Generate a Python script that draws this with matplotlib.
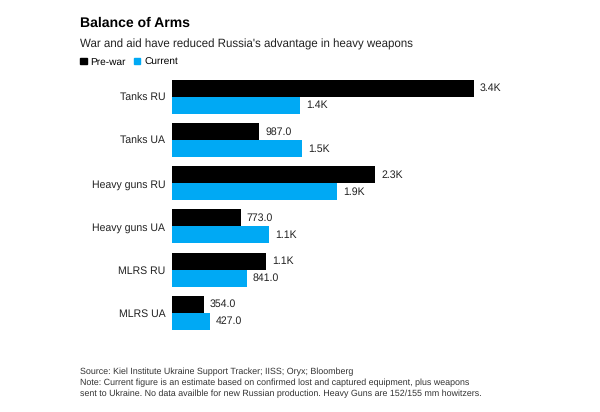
import numpy as np
import matplotlib
matplotlib.use('Agg')
import matplotlib.pyplot as plt
from matplotlib.patches import Patch

plt.rcParams['font.family'] = ['Liberation Sans', 'DejaVu Sans']
plt.rcParams['text.hinting'] = 'no_hinting'

#data
categories = ['Tanks RU', 'Tanks UA', 'Heavy guns RU', 'Heavy guns UA', 'MLRS RU', 'MLRS UA']
pre_war = [3417, 987, 2300, 773, 1060, 354]
current = [1446, 1472, 1862, 1099, 841, 427]
series_names = ['Pre-war', 'Current']
black = '#000000'
blue = '#00a9f4'

def fmt(v):
    if v >= 1000:
        return '%.1fK' % (v / 1000.0)
    return '%.1f' % v

W, H = 600, 412
fig = plt.figure(figsize=(W / 100, H / 100), dpi=100)
ax = fig.add_axes([172.3 / W, 1 - 332 / H, (560 - 172.3) / W, 254 / H])

y = np.arange(len(categories))
h = 0.394
ax.barh(y - h / 2, pre_war, height=h, color=black)
ax.barh(y + h / 2, current, height=h, color=blue)

for i in range(len(categories)):
    ax.annotate(fmt(pre_war[i]), (pre_war[i], y[i] - h / 2), xytext=(6, 0), textcoords='offset pixels',
                va='center', ha='left', fontsize=7.6, color='#222222')
    ax.annotate(fmt(current[i]), (current[i], y[i] + h / 2), xytext=(6, 0), textcoords='offset pixels',
                va='center', ha='left', fontsize=7.6, color='#222222')

ax.set_xlim(0, 4390)
ax.set_ylim(5.447, -0.44)
ax.set_yticks(y)
ax.set_yticklabels(categories, fontsize=7.6, color='#222222')
ax.tick_params(axis='y', length=0, pad=5)
ax.set_xticks([])
for s in ax.spines.values():
    s.set_visible(False)

fig.text(80 / W, 1 - 23 / H, 'Balance of Arms', fontsize=10.1, fontweight='bold', va='center', ha='left')
fig.text(80 / W, 1 - 44 / H, "War and aid have reduced Russia's advantage in heavy weapons",
         fontsize=8.3, va='center', ha='left', color='#222222')

handles = [Patch(color=black), Patch(color=blue)]
fig.legend(handles, series_names, loc='center left', bbox_to_anchor=(80 / W, 1 - 62 / H), ncol=2,
           frameon=False, fontsize=7.3, handlelength=0.65, handleheight=0.65, handletextpad=0.4,
           columnspacing=0.75, borderpad=0, borderaxespad=0)

foot = ('Source: Kiel Institute Ukraine Support Tracker; IISS; Oryx; Bloomberg\n'
        'Note: Current figure is an estimate based on confirmed lost and captured equipment, plus weapons\n'
        'sent to Ukraine. No data availble for new Russian production. Heavy Guns are 152/155 mm howitzers.')
fig.text(80 / W, 1 - 368 / H, foot, fontsize=6.4, va='top', ha='left', color='#333333', linespacing=1.35)

fig.savefig('out.png', dpi=100)
